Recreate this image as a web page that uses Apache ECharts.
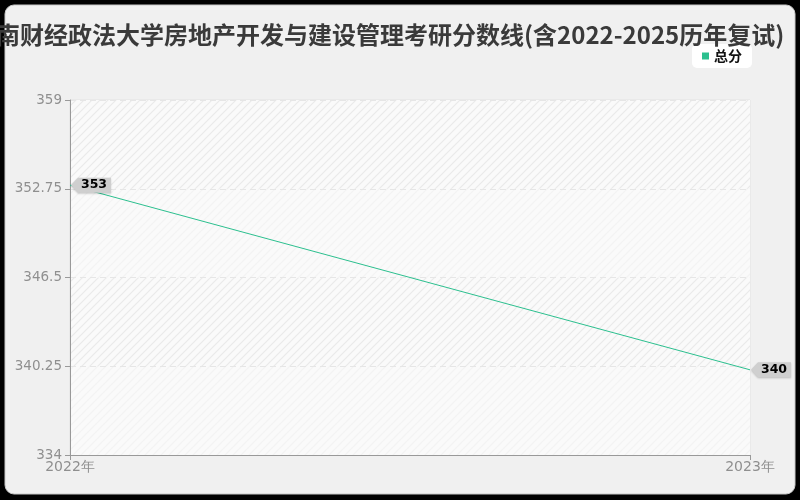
<!DOCTYPE html>
<html>
<head>
<meta charset="utf-8">
<script src="https://cdn.jsdelivr.net/npm/echarts@6/dist/echarts.min.js"></script>
<style>
html, body { margin: 0; padding: 0; background: #000; }
#main { width: 800px; height: 500px; }
</style>
</head>
<body>
<div id="main"></div>
<script>
// 数据
var years = ['2022年', '2023年'];
var scores = [353, 340];
var yTicks = [334, 340.25, 346.5, 352.75, 359];

// 斜线底纹
function hatch(bg, line) {
    var c = document.createElement('canvas');
    c.width = 8; c.height = 8;
    var ctx = c.getContext('2d');
    ctx.fillStyle = bg;
    ctx.fillRect(0, 0, 8, 8);
    ctx.strokeStyle = line;
    ctx.lineWidth = 1.2;
    ctx.beginPath();
    ctx.moveTo(0, 8); ctx.lineTo(8, 0);
    ctx.moveTo(-4, 4); ctx.lineTo(4, -4);
    ctx.moveTo(4, 12); ctx.lineTo(12, 4);
    ctx.stroke();
    return { image: c, repeat: 'repeat' };
}

var chart = echarts.init(document.getElementById('main'));
var option = {
    backgroundColor: '#000',
    graphic: [{
        type: 'rect',
        z: -10,
        silent: true,
        shape: { x: 5, y: 5, width: 790, height: 489, r: 9 },
        style: { fill: '#f0f0f0', stroke: '#c8c8c8', lineWidth: 1 }
    }],
    title: {
        text: '中南财经政法大学房地产开发与建设管理考研分数线(含2022-2025历年复试)',
        left: -33,
        top: 18,
        textStyle: {
            color: '#3a3a3a',
            fontWeight: 'bold',
            fontSize: 24,
            fontFamily: 'Noto Sans CJK SC'
        }
    },
    legend: {
        data: ['总分'],
        right: 48,
        top: 44,
        icon: 'rect',
        itemWidth: 7,
        itemHeight: 7,
        itemGap: 6,
        padding: [5, 10],
        backgroundColor: '#fff',
        borderRadius: 5,
        textStyle: { color: '#111', fontSize: 14, fontWeight: 'bold', fontFamily: 'Noto Sans CJK SC' }
    },
    grid: {
        left: 70, right: 50, top: 100, bottom: 45,
        show: true,
        backgroundColor: '#fafafa',
        borderColor: '#e2e2e2',
        borderWidth: 1
    },
    xAxis: {
        type: 'category',
        data: years,
        boundaryGap: false,
        axisLine: { lineStyle: { color: '#999' } },
        axisTick: { show: true, alignWithLabel: true, lineStyle: { color: '#999' } },
        axisLabel: { color: '#8f8f8f', fontSize: 14, margin: 5, fontFamily: 'DejaVu Sans' },
        splitLine: { show: false }
    },
    yAxis: {
        type: 'value',
        min: yTicks[0],
        max: yTicks[yTicks.length - 1],
        interval: 6.25,
        axisLine: { show: true, lineStyle: { color: '#999' } },
        axisTick: { show: true, lineStyle: { color: '#999' } },
        axisLabel: { color: '#8f8f8f', fontSize: 13.5, fontFamily: 'DejaVu Sans' },
        splitLine: { show: true, lineStyle: { color: '#e6e6e6', type: [6, 4] } },
        splitArea: {
            show: true,
            areaStyle: { color: [hatch('#fafafa', '#f3f3f3'), hatch('#fafafa', '#eaeaea')] }
        }
    },
    series: [{
        name: '总分',
        type: 'line',
        data: scores,
        showSymbol: false,
        symbol: 'rect',
        color: '#2cc08f',
        lineStyle: { width: 1, color: '#2cc08f' },
        markPoint: {
            symbol: 'path://M0,7 L7,0 L40,0 L40,14 L7,14 Z',
            symbolSize: [40, 15],
            symbolOffset: [21, 0],
            itemStyle: {
                color: '#cfcfcf',
                shadowColor: 'rgba(0,0,0,0.2)',
                shadowBlur: 2,
                shadowOffsetY: 1
            },
            label: {
                show: true,
                position: 'inside',
                offset: [3, 0],
                color: '#000',
                fontSize: 12.5,
                fontWeight: 'bold',
                fontFamily: 'DejaVu Sans',
                formatter: function (p) { return p.value; }
            },
            data: scores.map(function (v, i) {
                return { coord: [years[i], v], value: v };
            })
        }
    }]
};
chart.setOption(option);
</script>
</body>
</html>
